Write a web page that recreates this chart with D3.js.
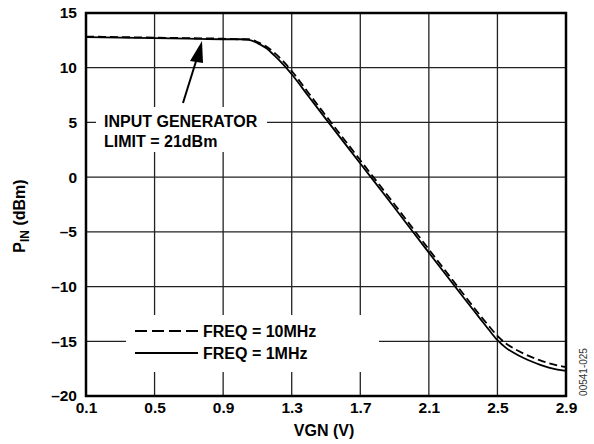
<!DOCTYPE html>
<html><head><meta charset="utf-8">
<script src="https://cdn.jsdelivr.net/npm/d3@7"></script>
<style>body{margin:0;background:#fff}svg{display:block}text{font-family:"Liberation Sans",Arial,sans-serif}</style>
</head><body>
<script>
const vgn = [0.1,0.3,0.5,0.7,0.9,1.0,1.05,1.1,1.15,1.2,1.25,1.3,1.4,1.5,1.7,1.9,2.1,2.3,2.4,2.45,2.5,2.55,2.6,2.65,2.7,2.75,2.8,2.85,2.9];
const pin1MHz = [12.8,12.75,12.7,12.65,12.6,12.6,12.55,12.25,11.8,11.1,10.3,9.4,7.35,5.3,1.25,-2.8,-6.9,-10.95,-12.95,-13.95,-14.9,-15.6,-16.1,-16.5,-16.85,-17.15,-17.4,-17.58,-17.7];
const pin10MHz = [12.85,12.8,12.75,12.7,12.65,12.6,12.6,12.35,11.95,11.35,10.6,9.7,7.65,5.6,1.55,-2.5,-6.6,-10.65,-12.65,-13.6,-14.5,-15.2,-15.7,-16.1,-16.45,-16.75,-17.0,-17.2,-17.35];
const xTicks = [0.1,0.5,0.9,1.3,1.7,2.1,2.5,2.9];
const yTicks = [15,10,5,0,-5,-10,-15,-20];
const legendLabels = ["FREQ = 10MHz","FREQ = 1MHz"];
const annotation = ["INPUT GENERATOR","LIMIT = 21dBm"];

const W=594,H=444;
const L=86,R=566,T=13,B=396;
const svg=d3.select("body").append("svg").attr("width",W).attr("height",H);
const x=d3.scaleLinear().domain([0.1,2.9]).range([L,R]);
const y=d3.scaleLinear().domain([-20,15]).range([B,T]);

// grid
const g=svg.append("g");
g.selectAll(".vg").data(xTicks.slice(1,-1)).join("line")
 .attr("x1",d=>x(d)).attr("x2",d=>x(d)).attr("y1",T).attr("y2",B)
 .attr("stroke","#222").attr("stroke-width",1.3);
g.selectAll(".hg").data(yTicks.slice(1,-1)).join("line")
 .attr("y1",d=>y(d)).attr("y2",d=>y(d)).attr("x1",L).attr("x2",R)
 .attr("stroke","#222").attr("stroke-width",1.3);
// gaps for annotation and legend
svg.append("rect").attr("x",96).attr("y",107).attr("width",171).attr("height",45).attr("fill","#fff");
svg.append("rect").attr("x",126).attr("y",315).attr("width",253).attr("height",57).attr("fill","#fff");

// axes labels
const fs=15.5, fa=16;
const yAx=svg.append("g").attr("transform",`translate(${L-9},0)`)
 .call(d3.axisLeft(y).tickValues(yTicks).tickSize(0).tickPadding(0).tickFormat(d=>d<0?"\u2013"+Math.abs(d):d));
yAx.select(".domain").remove();
yAx.selectAll("text").attr("font-family","Liberation Sans, Arial, sans-serif").attr("font-weight","bold").attr("font-size",fs).attr("fill","#000");
const xAx=svg.append("g").attr("transform",`translate(0,${B+6})`)
 .call(d3.axisBottom(x).tickValues(xTicks).tickSize(0).tickPadding(0).tickFormat(d3.format(".1f")));
xAx.select(".domain").remove();
xAx.selectAll("text").attr("font-family","Liberation Sans, Arial, sans-serif").attr("font-weight","bold").attr("font-size",fs).attr("fill","#000");

svg.append("text").attr("x",(L+R)/2-2).attr("y",436).attr("text-anchor","middle")
 .attr("font-weight","bold").attr("font-size",fa).text("VGN (V)");
const yt=svg.append("text").attr("transform","translate(25,216) rotate(-90)").attr("text-anchor","middle")
 .attr("font-weight","bold").attr("font-size",fa);
yt.append("tspan").text("P");
yt.append("tspan").attr("font-size",12).attr("dy",4).text("IN");
yt.append("tspan").attr("dy",-4).text(" (dBm)");

svg.append("text").attr("transform","translate(587,372) rotate(-90)").attr("text-anchor","middle")
 .attr("font-size",10).attr("fill","#333").text("00541-025");

// curves
const line=d3.line().x((d,i)=>x(vgn[i])).y(d=>y(d)).curve(d3.curveMonotoneX);
svg.append("path").datum(pin1MHz).attr("d",line).attr("fill","none").attr("stroke","#000").attr("stroke-width",1.8);
svg.append("path").datum(pin10MHz).attr("d",line).attr("fill","none").attr("stroke","#000").attr("stroke-width",1.8).attr("stroke-dasharray","8,4");

// border
svg.append("rect").attr("x",L).attr("y",T).attr("width",R-L).attr("height",B-T).attr("fill","none").attr("stroke","#000").attr("stroke-width",2.5);

// annotation
annotation.forEach((t,i)=>svg.append("text").attr("x",104).attr("y",127+i*20).attr("font-weight","bold").attr("font-size",fa).text(t));
svg.append("line").attr("x1",183).attr("y1",103).attr("x2",197).attr("y2",58).attr("stroke","#000").attr("stroke-width",2);
svg.append("path").attr("d","M202,41 L190,61 L203,63 Z").attr("fill","#000");

// legend
const lg=svg.append("g");
[0,1].forEach(i=>{
  const yy=331+i*22;
  lg.append("line").attr("x1",135).attr("x2",198).attr("y1",yy).attr("y2",yy).attr("stroke","#000").attr("stroke-width",1.8).attr("stroke-dasharray",i==0?"12,5":null);
  lg.append("text").attr("x",203).attr("y",yy+6).attr("font-weight","bold").attr("font-size",fa).text(legendLabels[i]);
});
</script>
</body></html>
